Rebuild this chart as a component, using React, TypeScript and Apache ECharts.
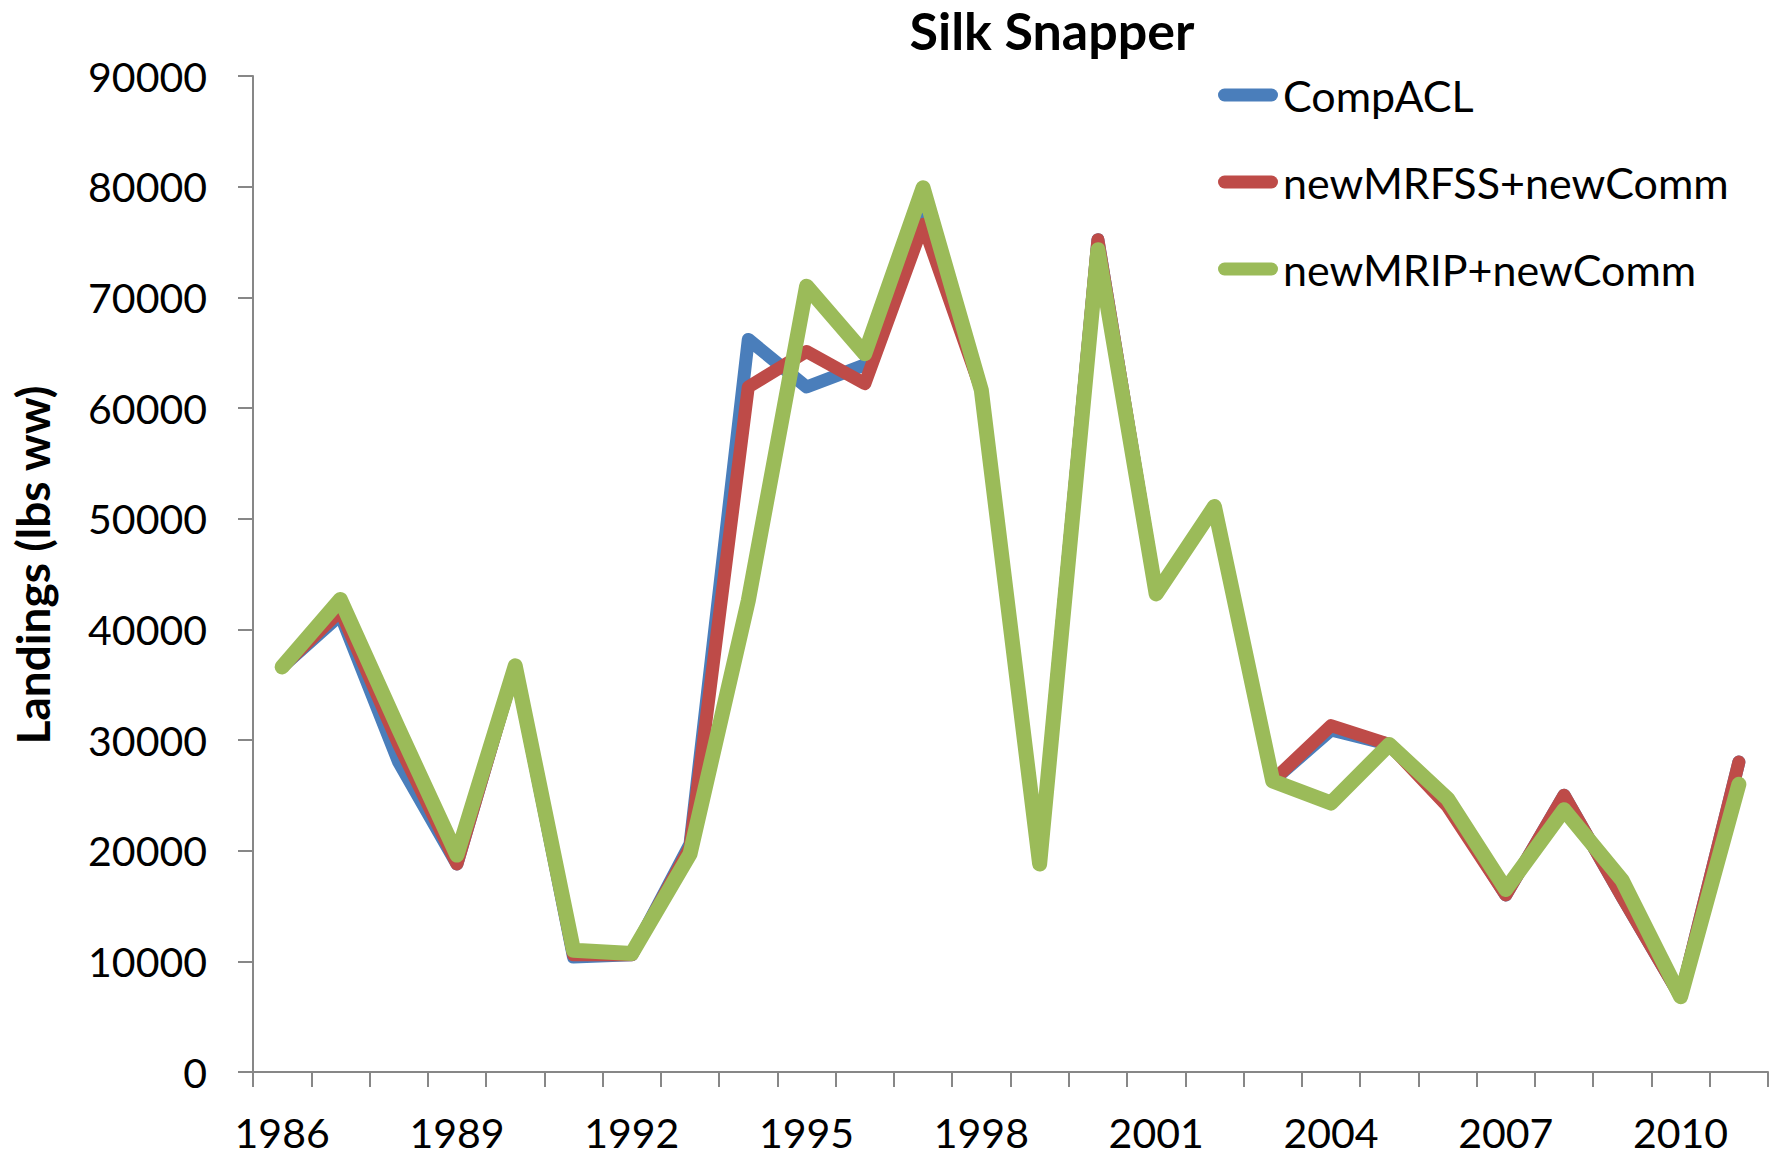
import React, { useEffect, useRef } from "react";
import * as echarts from "echarts";

const years = [
  "1986", "1987", "1988", "1989", "1990", "1991", "1992", "1993", "1994", "1995",
  "1996", "1997", "1998", "1999", "2000", "2001", "2002", "2003", "2004", "2005",
  "2006", "2007", "2008", "2009", "2010", "2011",
];
const compACL = [
  36600, 41300, 28000, 18800, 36700, 10400, 10600, 20600, 66200, 61900,
  63900, 77500, 61600, 18800, 75200, 43200, 51100, 26300, 30900, 29600,
  24300, 16000, 25000, 15800, 6800, 28000,
];
const newMRFSS = [
  36600, 41700, 29600, 18800, 36700, 10600, 10600, 20300, 61900, 65100,
  62200, 76600, 61600, 18800, 75200, 43200, 51100, 26300, 31300, 29600,
  24000, 16000, 25000, 15800, 6800, 28000,
];
const newMRIP = [
  36600, 42700, 31000, 19600, 36700, 11000, 10700, 19700, 42600, 71000,
  64900, 79900, 61600, 18800, 74300, 43200, 51100, 26300, 24300, 29600,
  24700, 16500, 23700, 17300, 6800, 26000,
];
const seriesNames = ["CompACL", "newMRFSS+newComm", "newMRIP+newComm"];
const seriesColors = ["#4A7EBB", "#BE4B48", "#9BBB59"];
const seriesWidths = [13, 13, 15];

const FONT = "Lato, 'Open Sans', 'DejaVu Sans', sans-serif";
const AXIS_COLOR = "#878787";

export default function App() {
  const ref = useRef<HTMLDivElement>(null);
  useEffect(() => {
    if (!ref.current) return;
    const chart = echarts.init(ref.current, null, { renderer: "svg" });
    const data = [compACL, newMRFSS, newMRIP];
    chart.setOption({
      animation: false,
      backgroundColor: "#ffffff",
      title: {
        text: "Silk Snapper",
        left: 1052,
        textAlign: "center",
        top: 2,
        padding: 0,
        textStyle: { fontFamily: FONT, fontWeight: "bold", fontSize: 52, lineHeight: 56, color: "#000" },
      },
      legend: {
        orient: "vertical",
        left: 1218,
        top: 73,
        padding: 0,
        itemGap: 43,
        itemWidth: 60,
        itemHeight: 13,
        icon: "path://M6.5,0H53.5A6.5,6.5,0,0,1,53.5,13H6.5A6.5,6.5,0,0,1,6.5,0Z",
        data: seriesNames,
        textStyle: { fontFamily: FONT, fontSize: 43, color: "#000", lineHeight: 44 },
      },
      grid: { left: 253, right: 11, top: 76, bottom: 84, containLabel: false },
      xAxis: {
        type: "category",
        data: years,
        boundaryGap: true,
        axisLine: { show: true, lineStyle: { color: AXIS_COLOR, width: 2 } },
        axisTick: { show: true, interval: 0, length: 15, lineStyle: { color: AXIS_COLOR, width: 2 } },
        axisLabel: { interval: 2, margin: 40, fontFamily: FONT, fontSize: 41, color: "#000" },
        splitLine: { show: false },
      },
      yAxis: {
        type: "value",
        min: 0,
        max: 90000,
        interval: 10000,
        name: "Landings (lbs ww)",
        nameLocation: "middle",
        nameGap: 198,
        nameRotate: 90,
        nameTextStyle: {
          fontFamily: FONT,
          fontWeight: "bold",
          fontSize: 46,
          color: "#000",
          padding: [0, 0, 0, 18],
        },
        axisLine: { show: true, lineStyle: { color: AXIS_COLOR, width: 2 } },
        axisTick: { show: true, length: 15, lineStyle: { color: AXIS_COLOR, width: 2 } },
        axisLabel: {
          margin: 46,
          fontFamily: FONT,
          fontSize: 41,
          color: "#000",
          formatter: (v: number) => String(v),
        },
        splitLine: { show: false },
      },
      series: seriesNames.map((name, i) => ({
        name,
        type: "line",
        data: data[i],
        symbol: "none",
        smooth: false,
        color: seriesColors[i],
        itemStyle: { color: seriesColors[i] },
        lineStyle: { color: seriesColors[i], width: seriesWidths[i], cap: "round", join: "round" },
        z: 2 + i,
      })),
    });
    return () => chart.dispose();
  }, []);
  return (
    <div
      ref={ref}
      style={{ position: "fixed", left: 0, top: 0, width: 1779, height: 1156 }}
    />
  );
}
